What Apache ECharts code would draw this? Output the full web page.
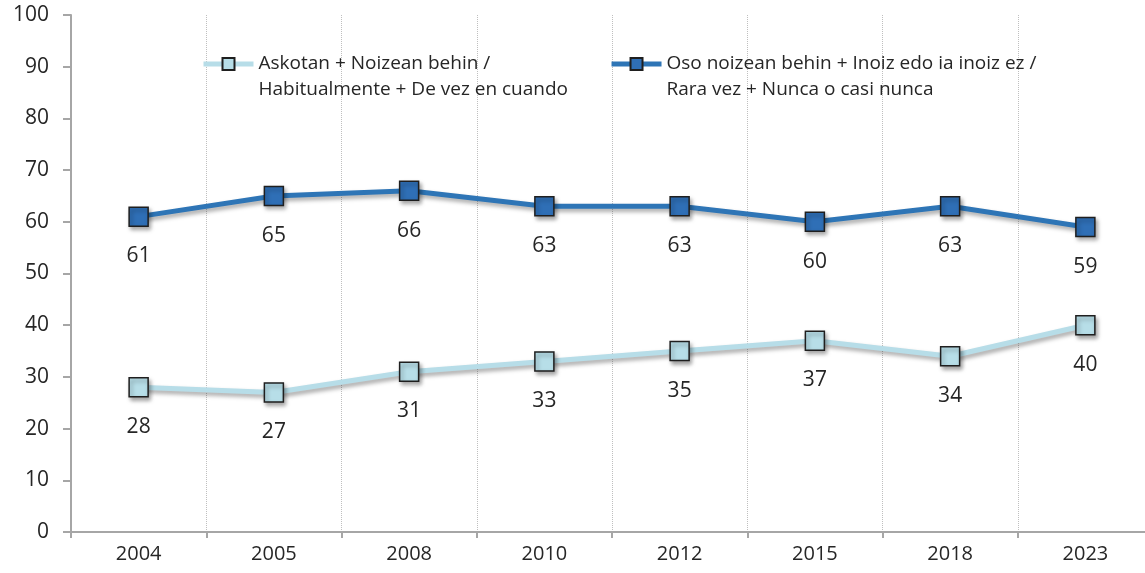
<!DOCTYPE html>
<html>
<head>
<meta charset="utf-8">
<script src="https://cdn.jsdelivr.net/npm/echarts@6/dist/echarts.min.js"></script>
<style>
  html, body { margin: 0; padding: 0; background: #fff; }
  #chart { width: 1145px; height: 573px; }
</style>
</head>
<body>
<div id="chart"></div>
<script>
// datos del gráfico
const years = ['2004', '2005', '2008', '2010', '2012', '2015', '2018', '2023']
const seriesNames = [
  'Askotan + Noizean behin /\nHabitualmente + De vez en cuando',
  'Oso noizean behin + Inoiz edo ia inoiz ez /\nRara vez + Nunca o casi nunca'
]
const oftenValues = [28, 27, 31, 33, 35, 37, 34, 40]
const rarelyValues = [61, 65, 66, 63, 63, 60, 63, 59]
const yTicks = { min: 0, max: 100, interval: 10 }

const font = 'Open Sans'
const chart = echarts.init(document.getElementById('chart'))

// estilo común de cada serie
function makeSeries(name, data, lineColor, fillColor) {
  return {
    name: name,
    type: 'line',
    data: data,
    symbol: 'rect',
    symbolSize: 19,
    lineStyle: {
      color: lineColor,
      width: 5,
      shadowColor: 'rgba(0,0,0,0.35)',
      shadowBlur: 4,
      shadowOffsetX: 2,
      shadowOffsetY: 3
    },
    itemStyle: {
      color: fillColor,
      borderColor: '#1f1f1f',
      borderWidth: 1.5,
      shadowColor: 'rgba(0,0,0,0.35)',
      shadowBlur: 4,
      shadowOffsetX: 2,
      shadowOffsetY: 3
    },
    label: {
      show: true,
      position: 'bottom',
      distance: 19,
      fontFamily: font,
      fontSize: 21,
      color: '#262626'
    },
    emphasis: { disabled: true }
  }
}

const option = {
  animation: false,
  grid: {
    left: 71,
    right: -8,
    top: 15,
    bottom: 41,
    containLabel: false,
    outerBoundsMode: 'none'
  },
  legend: {
    left: 196,
    top: 20,
    itemWidth: 50,
    itemHeight: 15,
    itemGap: 41,
    data: seriesNames,
    // línea vacía delante para que el icono quede a la altura de la primera línea
    formatter: (name) => '\n' + name,
    lineStyle: { width: 5, shadowBlur: 0, shadowOffsetX: 0, shadowOffsetY: 0 },
    itemStyle: { shadowBlur: 0, shadowOffsetX: 0, shadowOffsetY: 0 },
    textStyle: {
      fontFamily: font,
      fontSize: 19,
      color: '#262626',
      lineHeight: 26
    }
  },
  xAxis: {
    type: 'category',
    data: years,
    boundaryGap: true,
    axisLine: { lineStyle: { color: '#a6a6a6', width: 2 } },
    axisTick: { show: true, length: 6, lineStyle: { color: '#a6a6a6', width: 2 } },
    axisLabel: { margin: 12, fontFamily: font, fontSize: 20, color: '#262626' },
    splitLine: { show: true, lineStyle: { color: '#bfbfbf', type: 'dotted', width: 1 } }
  },
  yAxis: {
    type: 'value',
    min: yTicks.min,
    max: yTicks.max,
    interval: yTicks.interval,
    axisLine: { show: true, lineStyle: { color: '#a6a6a6', width: 2 } },
    axisTick: { show: true, length: 8, inside: false, lineStyle: { color: '#a6a6a6', width: 2 } },
    axisLabel: { margin: 22, fontFamily: font, fontSize: 21, color: '#262626' },
    splitLine: { show: false }
  },
  series: [
    makeSeries(seriesNames[0], oftenValues, '#b7dde8', '#b7dee8'),
    makeSeries(seriesNames[1], rarelyValues, '#2e75b6', '#2f6fb6')
  ]
}

chart.setOption(option)
</script>
</body>
</html>
